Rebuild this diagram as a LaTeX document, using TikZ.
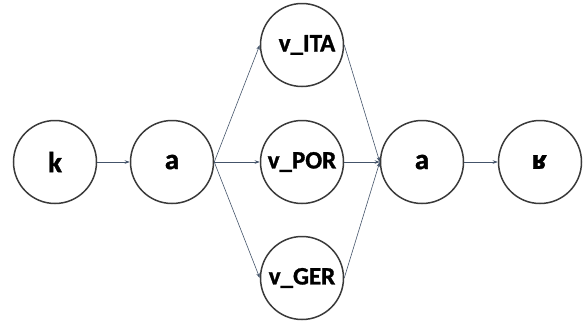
\documentclass[tikz,border=0pt]{standalone}
\usepackage{fontspec}
\setmainfont[BoldFont={Carlito Bold},BoldFeatures={FakeBold=1.2}]{Carlito}
\newfontfamily\ipafont[BoldFeatures={FakeBold=1}]{DejaVu Sans}
\usetikzlibrary{arrows.meta}
\definecolor{edgecol}{HTML}{44546A}
\definecolor{ringcol}{HTML}{3A3A3A}
\begin{document}
\begin{tikzpicture}[x=1pt,y=-1pt,
  state/.style={circle,draw=ringcol,line width=1.5pt,minimum size=83pt,inner sep=0pt,font=\bfseries\fontsize{25}{28}\selectfont},
  big/.style={font=\bfseries\fontsize{29}{32}\selectfont},
  link/.style={draw=edgecol,line width=0.6pt,-{Stealth[length=5pt,width=3.5pt]}}]
\useasboundingbox (0,0) rectangle (583,322);
\node[state,big] (k) at (55,162) {k};
\node[state,big] (a1) at (172,162) {a};
\node[state] (ita) at (302,45) {\hspace*{10pt}v\_ITA};
\node[state] (por) at (302,162) {v\_POR};
\node[state] (ger) at (302,278) {v\_GER};
\node[state,big] (a2) at (422,162) {a};
\node[state,font=\ipafont\bfseries\fontsize{25}{30}\selectfont] (r) at (540,162) {ʁ};
\draw[link] (k) -- (a1);
\draw[link] (a1.east) -- (ita.west);
\draw[link] (a1.east) -- (por.west);
\draw[link] (a1.east) -- (ger.west);
\draw[link] (ita.east) -- (a2.west);
\draw[link] (por.east) -- (a2.west);
\draw[link] (ger.east) -- (a2.west);
\draw[link] (a2) -- (r);
\end{tikzpicture}
\end{document}
